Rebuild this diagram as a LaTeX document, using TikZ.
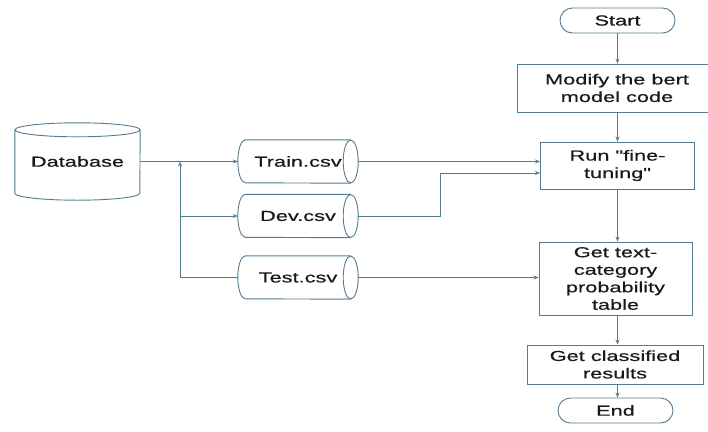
\documentclass[tikz,border=0pt]{standalone}
\usepackage{fontspec}
\newfontfamily\diagfont[FakeStretch=1.5,FakeBold=0.5]{Liberation Sans}
\usetikzlibrary{arrows.meta,shapes.misc}
\definecolor{edge}{RGB}{84,124,142}
\definecolor{ink}{RGB}{25,25,25}
\begin{document}
\begin{tikzpicture}[x=1pt,y=-1pt,
  txt/.style={inner sep=0pt, align=center, text=ink, font=\diagfont\fontsize{14.5}{17.5}\selectfont},
  box/.style={txt, draw=edge, line width=0.9pt},
  term/.style={box, rounded rectangle},
  line/.style={draw=edge, line width=0.9pt},
  arr/.style={line, -{Stealth[length=5pt,width=4pt]}}]
\useasboundingbox (0,0) rectangle (708,431);
\fill[white] (0,0) rectangle (708,431);

% right column
\node[term, minimum width=115pt, minimum height=25pt] (start) at (617.5,20.5) {Start};
\node[box, minimum width=200pt, minimum height=48pt] (mod) at (617,88) {Modify the bert\\model code};
\node[box, minimum width=154pt, minimum height=47pt] (run) at (617.5,165.5) {Run "fine-\\tuning"};
\node[box, minimum width=153pt, minimum height=73pt] (gtt) at (615.5,278.5) {Get text-\\category\\probability\\table};
\node[box, minimum width=176pt, minimum height=39pt] (gcr) at (615,364.5) {Get classified\\results};
\node[term, minimum width=115pt, minimum height=25pt] (end) at (615.5,410.5) {End};

% database
\node[txt, minimum width=125pt, minimum height=77pt] (db) at (77.5,161.5) {Database};
\draw[line] ([yshift=-7pt]db.north) ellipse [x radius=62.5, y radius=7];
\draw[line] ([yshift=-7pt]db.north west) -- ([yshift=7pt]db.south west)
  arc[start angle=180, end angle=0, x radius=62.5, y radius=7] -- ([yshift=-7pt]db.north east);

% csv cylinders
\node[txt, minimum width=120pt, minimum height=43pt] (train) at (298,161.5) {Train.csv};
\node[txt, minimum width=120pt, minimum height=43pt] (dev) at (298,216) {Dev.csv};
\node[txt, minimum width=120pt, minimum height=43pt] (test) at (298,277.5) {Test.csv};
\foreach \n in {train,dev,test}{
  \draw[line] ([xshift=-7.5pt]\n.north east) -- ([xshift=7.5pt]\n.north west)
    arc[start angle=270, end angle=90, x radius=7.5, y radius=21.5] -- ([xshift=-7.5pt]\n.south east);
  \draw[line] ([xshift=-7.5pt]\n.east) ellipse [x radius=7.5, y radius=21.5];
}

% connectors
\coordinate (j) at (180,161.5);
\coordinate (k) at (440,173);
\draw[arr] (db.east) -- (train.west);
\draw[arr] (test.west) -| (j);
\draw[arr] (j |- dev.west) -- (dev.west);
\draw[arr] (train.east) -- (train.east -| run.west);
\draw[arr] (dev.east) -- (dev.east -| k) -- (k) -- (k -| run.west);
\draw[arr] (test.east) -- (test.east -| gtt.west);

\draw[arr] (start.south) -- (start.south |- mod.north);
\draw[arr] (start.south |- mod.south) -- (start.south |- run.north);
\draw[arr] (start.south |- run.south) -- (start.south |- gtt.north);
\draw[arr] (start.south |- gtt.south) -- (start.south |- gcr.north);
\draw[arr] (start.south |- gcr.south) -- (start.south |- end.north);
\end{tikzpicture}
\end{document}
